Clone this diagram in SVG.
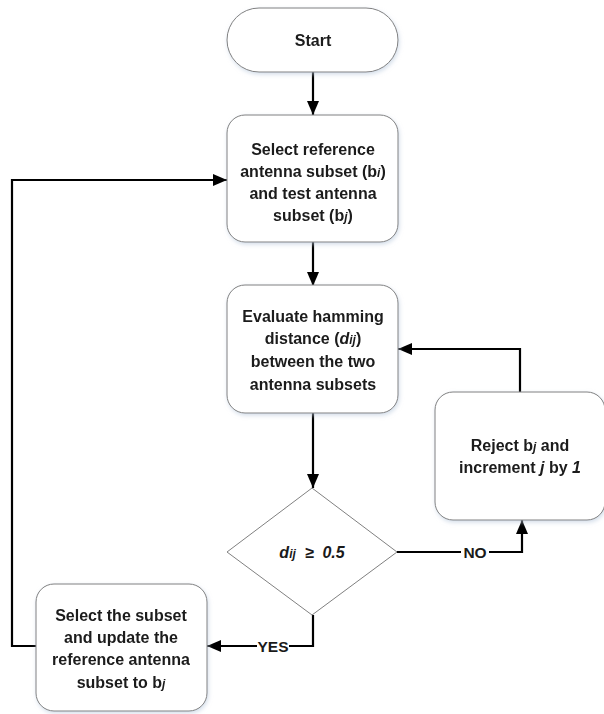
<svg xmlns="http://www.w3.org/2000/svg" width="604" height="714" viewBox="0 0 604 714">
<style>
.box{fill:#fff;stroke:#808080;stroke-width:1}
.t{font-family:"Liberation Sans",Arial,sans-serif;font-weight:bold;font-size:16px;fill:#1a1a1a;text-anchor:middle}
.i{font-style:italic}
.s{font-style:italic;font-size:12px}
.c{fill:none;stroke:#000;stroke-width:2.2}
.lbl{font-family:"Liberation Sans",Arial,sans-serif;font-weight:bold;font-size:15.5px;fill:#1a1a1a;text-anchor:middle}
</style>
<defs>
<marker id="a" viewBox="0 0 14 12" refX="14" refY="6" markerWidth="14" markerHeight="12" orient="auto" markerUnits="userSpaceOnUse">
<path d="M0,0 L14,6 L0,12 z" fill="#000"/>
</marker>
<filter id="sh" x="-10%" y="-10%" width="125%" height="125%">
<feGaussianBlur in="SourceAlpha" stdDeviation="2"/>
<feOffset dx="1" dy="2" result="b"/>
<feFlood flood-color="#b8c8dc" flood-opacity="0.6"/>
<feComposite in2="b" operator="in"/>
<feMerge><feMergeNode/><feMergeNode in="SourceGraphic"/></feMerge>
</filter>
</defs>

<g id="connectors">
<line class="c" x1="313" y1="72" x2="313" y2="115" marker-end="url(#a)"/>
<line class="c" x1="313" y1="242" x2="313" y2="286" marker-end="url(#a)"/>
<line class="c" x1="313" y1="413" x2="313" y2="488" marker-end="url(#a)"/>
<polyline class="c" points="397,552 522,552 522,520" marker-end="url(#a)"/>
<polyline class="c" points="520,392 520,349 398,349" marker-end="url(#a)"/>
<polyline class="c" points="313,615 313,646 207,646" marker-end="url(#a)"/>
<polyline class="c" points="36,646 12,646 12,180 227,180" marker-end="url(#a)"/>
<rect x="461" y="542" width="28" height="20" fill="#fff"/>
<text class="lbl" x="475" y="558">NO</text>
<rect x="257" y="636" width="32" height="20" fill="#fff"/>
<text class="lbl" x="273" y="652">YES</text>
</g>

<g id="start" filter="url(#sh)">
<rect class="box" x="227" y="8" width="171" height="64" rx="32"/>
<text class="t" x="313" y="46">Start</text>
</g>

<g id="select-ref" filter="url(#sh)">
<rect class="box" x="227" y="115" width="171" height="127" rx="18"/>
<text class="t" x="313" y="155">Select reference</text>
<text class="t" x="313" y="177">antenna subset (b<tspan class="s">i</tspan>)</text>
<text class="t" x="313" y="199">and test antenna</text>
<text class="t" x="313" y="221">subset (b<tspan class="s">j</tspan>)</text>
</g>

<g id="evaluate" filter="url(#sh)">
<rect class="box" x="227" y="285" width="171" height="128" rx="18"/>
<text class="t" x="313" y="322">Evaluate hamming</text>
<text class="t" x="313" y="344">distance (<tspan class="i">d</tspan><tspan class="s">ij</tspan>)</text>
<text class="t" x="313" y="367">between the two</text>
<text class="t" x="313" y="390">antenna subsets</text>
</g>

<g id="decision">
<polygon class="box" points="312,488 397,552 312,615 227,552"/>
<text class="t i" x="312" y="558" xml:space="preserve"><tspan>d</tspan><tspan class="s">ij</tspan><tspan>  ≥  0.5</tspan></text>
</g>

<g id="reject" filter="url(#sh)">
<rect class="box" x="435" y="392" width="170" height="128" rx="18"/>
<text class="t" x="520" y="451">Reject b<tspan class="s">j</tspan> and</text>
<text class="t" x="520" y="473">increment <tspan class="i">j</tspan> by <tspan class="i">1</tspan></text>
</g>

<g id="select-subset" filter="url(#sh)">
<rect class="box" x="36" y="584" width="171" height="127" rx="18"/>
<text class="t" x="121" y="621">Select the subset</text>
<text class="t" x="121" y="643">and update the</text>
<text class="t" x="121" y="665">reference antenna</text>
<text class="t" x="121" y="688">subset to b<tspan class="s">j</tspan></text>
</g>
</svg>
